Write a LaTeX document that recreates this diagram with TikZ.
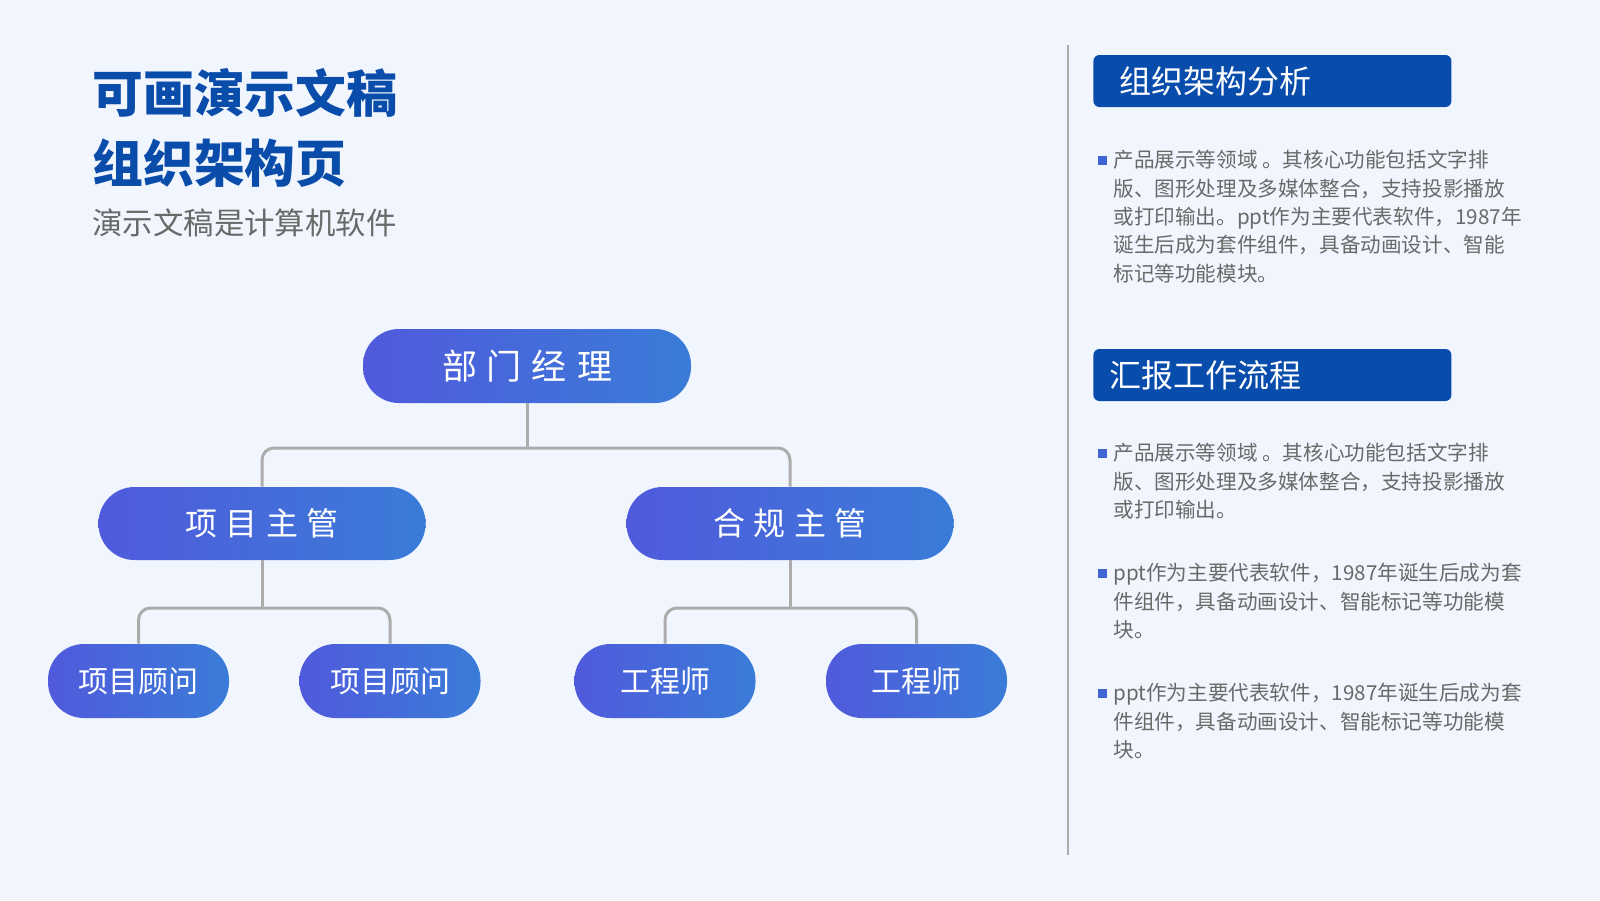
\documentclass[tikz,border=0pt]{standalone}
\usepackage{fontspec}
\setmainfont{Noto Sans CJK SC}
\usepackage{xcolor}

\definecolor{bgc}{RGB}{241,246,254}
\definecolor{titlec}{RGB}{10,76,170}
\definecolor{headc}{RGB}{8,76,172}
\definecolor{greyt}{RGB}{105,105,105}
\definecolor{linec}{RGB}{172,172,172}
\definecolor{gradl}{RGB}{80,90,220}
\definecolor{gradr}{RGB}{58,124,216}
\definecolor{dotc}{RGB}{64,100,214}

\begin{document}
\begin{tikzpicture}[x=0.5pt, y=-0.5pt,
    pill/.style={rounded corners=18pt, left color=gradl, right color=gradr, text=white, inner sep=0pt},
    link/.style={linec, line width=1.5pt, rounded corners=6pt},
    headbox/.style={fill=headc, text=white, rounded corners=3pt, anchor=west, minimum height=26pt, align=left, font=\fontsize{16pt}{16pt}\selectfont},
    para/.style={text=greyt, anchor=north west, align=left, inner sep=0pt, font=\fontsize{10.3pt}{14.15pt}\selectfont}]
    % Fundo
    \useasboundingbox (0,0) rectangle (1600,900);
    \fill[bgc] (0,0) rectangle (1600,900);
    % Titulo
    \node[anchor=west, inner sep=0pt, text=titlec, font=\fontsize{25.4pt}{30pt}\selectfont\bfseries] (title1) at (92,92.5) {可画演示文稿};
    \node[anchor=west, inner sep=0pt, text=titlec, font=\fontsize{25.4pt}{30pt}\selectfont\bfseries] (title2) at (92,163.5) {组织架构页};
    \node[anchor=west, inner sep=0pt, text=greyt, font=\fontsize{15.2pt}{18pt}\selectfont] (sub) at (92,222.5) {演示文稿是计算机软件};
    % Organograma
    \node[pill, minimum width=164pt, minimum height=37pt, font=\fontsize{17.5pt}{17.5pt}\selectfont] (mgr) at (527,366) {部\kern5pt 门\kern5pt 经\kern5pt 理};
    \node[pill, minimum width=163.5pt, minimum height=36.5pt, font=\fontsize{16pt}{16pt}\selectfont] (lead1) at (262,523.5) {项\kern4.25pt 目\kern4.25pt 主\kern4.25pt 管};
    \node[pill, minimum width=163.5pt, minimum height=36.5pt, font=\fontsize{16pt}{16pt}\selectfont] (lead2) at (790,523.5) {合\kern4.25pt 规\kern4.25pt 主\kern4.25pt 管};
    \node[pill, minimum width=90.5pt, minimum height=37pt, font=\fontsize{15pt}{15pt}\selectfont] (adv1) at (138.5,681) {项目顾问};
    \node[pill, minimum width=90.5pt, minimum height=37pt, font=\fontsize{15pt}{15pt}\selectfont] (adv2) at (390,681) {项目顾问};
    \node[pill, minimum width=90.5pt, minimum height=37pt, font=\fontsize{15pt}{15pt}\selectfont] (eng1) at (665,681) {工程师};
    \node[pill, minimum width=90.5pt, minimum height=37pt, font=\fontsize{15pt}{15pt}\selectfont] (eng2) at (916.5,681) {工程师};
    % Ligacoes
    \coordinate (j0) at (527,448);
    \coordinate (j1) at (262,608);
    \coordinate (j2) at (790,608);
    \draw[link] (mgr.south) -- (j0);
    \draw[link] (lead1.north) |- (j0) -| (lead2.north);
    \draw[link] (lead1.south) -- (j1);
    \draw[link] (adv1.north) |- (j1) -| (adv2.north);
    \draw[link] (lead2.south) -- (j2);
    \draw[link] (eng1.north) |- (j2) -| (eng2.north);
    % Divisoria
    \draw[linec, line width=1pt] (1068,45) -- (1068,855);
    % Painel direito
    \node[headbox, minimum width=179pt, inner xsep=13pt, text width=153pt] (head1) at (1093,81) {组织架构分析};
    \node[headbox, minimum width=179pt, inner xsep=8pt, text width=163pt] (head2) at (1093,375) {汇报工作流程};
    \node[para] (text1) at (1113,150) {产品展示等领域 。其核心功能包括文字排\\版、图形处理及多媒体整合，支持投影播放\\或打印输出。ppt作为主要代表软件，1987年\\诞生后成为套件组件，具备动画设计、智能\\标记等功能模块。};
    \node[para] (text2) at (1113,443) {产品展示等领域 。其核心功能包括文字排\\版、图形处理及多媒体整合，支持投影播放\\或打印输出。};
    \node[para] (text3) at (1113,563) {ppt作为主要代表软件，1987年诞生后成为套\\件组件，具备动画设计、智能标记等功能模\\块。};
    \node[para] (text4) at (1113,683) {ppt作为主要代表软件，1987年诞生后成为套\\件组件，具备动画设计、智能标记等功能模\\块。};
    % Marcadores
    \foreach \y in {160,453,573,693} {
        \fill[dotc] (1098,\y-4.5) rectangle ++(9,9);
    }
\end{tikzpicture}
\end{document}
